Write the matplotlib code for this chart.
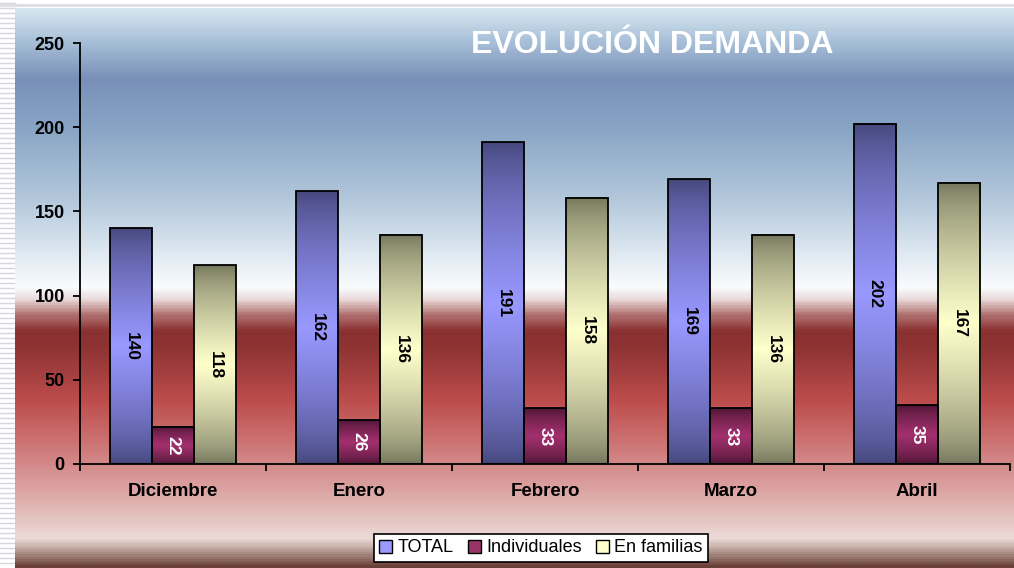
import numpy as np
import matplotlib.pyplot as plt
from matplotlib.colors import LinearSegmentedColormap
from matplotlib.patches import Patch

months = ['Diciembre', 'Enero', 'Febrero', 'Marzo', 'Abril']
total = [140, 162, 191, 169, 202]
individuales = [22, 26, 33, 33, 35]
familias = [118, 136, 158, 136, 167]
series_names = ['TOTAL', 'Individuales', 'En familias']
yticks = [0, 50, 100, 150, 200, 250]

W, H = 1014, 568
plt.rcParams['font.family'] = ['Liberation Sans', 'DejaVu Sans']
fig = plt.figure(figsize=(W / 100, H / 100), dpi=100)

# decoration: striped left margin and line on top (pixel coords)
deco = fig.add_axes([0, 0, 1, 1])
deco.set_xlim(0, W)
deco.set_ylim(H, 0)
deco.axis('off')
for yy in np.arange(3, H, 5):
    deco.plot([0, 15], [yy, yy], color='#d6d6de', lw=1)
deco.plot([0, W], [5, 5], color='#dcdce2', lw=2)

# background gradient
stops = [(8, '#d6e6f0'), (40, '#a8c0d8'), (78, '#7890b8'), (130, '#8aa6c6'),
         (200, '#b4c8dc'), (255, '#e0eaf2'), (288, '#fafcff'), (300, '#e8d6d6'),
         (315, '#b07070'), (332, '#8a3030'), (350, '#903434'), (400, '#bc4c4c'),
         (440, '#cc7070'), (480, '#d89898'), (520, '#e4c4c0'), (540, '#ecdcd8'),
         (550, '#c0a8a0'), (568, '#6a4038')]
bg_cmap = LinearSegmentedColormap.from_list(
    'bg', [((y - 8) / 560, c) for y, c in stops])
bg = fig.add_axes([15 / W, 0, 1 - 15 / W, 560 / H])
bg.imshow(np.linspace(0, 1, 560).reshape(-1, 1), cmap=bg_cmap, aspect='auto',
          interpolation='bilinear')
bg.axis('off')

ax = fig.add_axes([80 / W, (H - 464) / H, 930 / W, 421 / H])
ax.patch.set_alpha(0)

bar_colors = [('#44467a', '#9898ff', '#9999ff'),
              ('#4a1432', '#a2306e', '#993366'),
              ('#72745a', '#ffffcc', '#ffffcc')]
label_colors = ['black', 'white', 'black']
width = 42 / 186
x = np.arange(len(months)) + 0.5
t = np.linspace(0, 1, 200)
grad = (1 - np.abs(2 * t - 1)) ** 0.7

for i, vals in enumerate([total, individuales, familias]):
    dark, light, flat = bar_colors[i]
    cm = LinearSegmentedColormap.from_list('b%d' % i, [dark, light])
    xs = x + (i - 1) * width
    for xc, v in zip(xs, vals):
        ax.imshow(grad.reshape(-1, 1), cmap=cm, aspect='auto', vmin=0, vmax=1,
                  extent=(xc - width / 2, xc + width / 2, 0, v), zorder=2,
                  interpolation='bilinear')
        ax.text(xc, v / 2, str(v), rotation=270, ha='center', va='center',
                fontsize=12.5, fontweight='bold', color=label_colors[i], zorder=4)
    ax.bar(xs, vals, width, facecolor='none', edgecolor='black', lw=1.3, zorder=3)

ax.set_xlim(0, 5)
ax.set_ylim(0, 250)
ax.set_yticks(yticks)
ax.set_yticklabels([str(v) for v in yticks], fontsize=13, fontweight='bold')
ax.set_xticks(range(6))
ax.set_xticklabels([])
ax.set_xticks(x, minor=True)
ax.set_xticklabels(months, minor=True, fontsize=13.5, fontweight='bold')
ax.tick_params(axis='x', which='minor', length=0, pad=14)
ax.tick_params(axis='both', which='major', direction='out', length=5, width=1.3)
ax.tick_params(axis='y', pad=6)
for s in ['top', 'right']:
    ax.spines[s].set_visible(False)
for s in ['left', 'bottom']:
    ax.spines[s].set_linewidth(1.3)

fig.text(652 / W, 1 - 45 / H, 'EVOLUCIÓN DEMANDA', color='white', fontsize=23,
         fontweight='bold', ha='center', va='center')

handles = [Patch(facecolor=c[2], edgecolor='black', lw=1) for c in bar_colors]
leg = fig.legend(handles, series_names, loc='center', ncol=3,
                 bbox_to_anchor=(541 / W, 1 - 548 / H), fontsize=13,
                 fancybox=False, framealpha=1, edgecolor='black',
                 handlelength=0.7, handleheight=0.7, handletextpad=0.3,
                 columnspacing=0.8, borderpad=0.3)
leg.get_frame().set_linewidth(1.2)

fig.savefig('out.png', dpi=100)
